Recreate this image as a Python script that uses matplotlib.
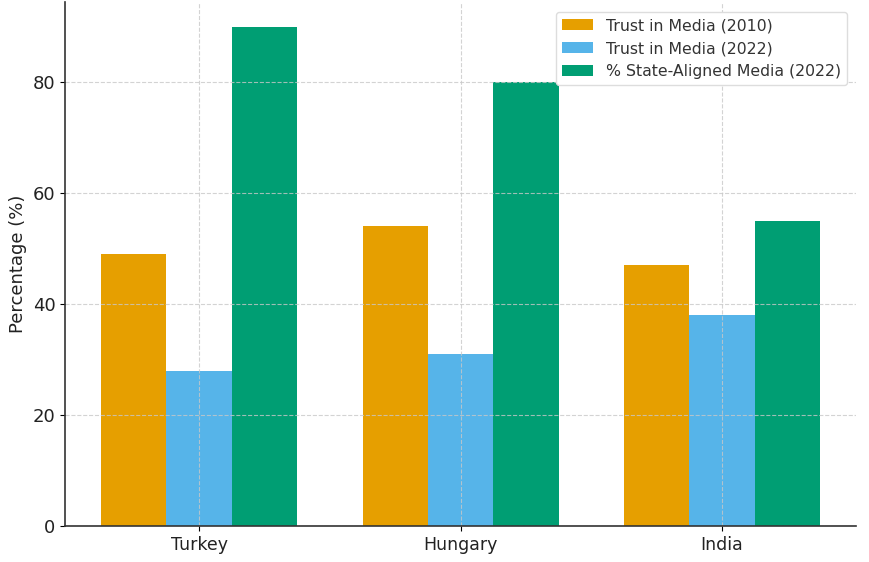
import numpy as np
import matplotlib
matplotlib.use('Agg')
import matplotlib.pyplot as plt

countries = ['Turkey', 'Hungary', 'India']
trust_2010 = [49, 54, 47]
trust_2022 = [28, 31, 38]
state_aligned_2022 = [90, 80, 55]

series = [
    ('Trust in Media (2010)', trust_2010, '#E69F00'),
    ('Trust in Media (2022)', trust_2022, '#56B4E9'),
    ('% State-Aligned Media (2022)', state_aligned_2022, '#009E73'),
]

fig, ax = plt.subplots(figsize=(8.69, 5.62), dpi=100)
fig.subplots_adjust(left=0.075, right=0.985, top=0.997, bottom=0.064)

x = np.arange(len(countries))
width = 0.25
for i, (label, vals, color) in enumerate(series):
    ax.bar(x + (i - 1) * width, vals, width, label=label, color=color)

ax.set_xticks(x)
ax.set_xticklabels(countries, fontsize=12.5, color='#222222')
ax.tick_params(axis='y', labelsize=13, labelcolor='#222222')
ax.set_ylabel('Percentage (%)', fontsize=13, color='#222222')
# grid sits on top of the bars in the reference
ax.grid(True, linestyle='--', color='#c8c8c8', linewidth=0.8, alpha=0.8)
for side in ('top', 'right'):
    ax.spines[side].set_visible(False)
for side in ('left', 'bottom'):
    ax.spines[side].set_color('#333333')
    ax.spines[side].set_linewidth(1.2)

leg = ax.legend(loc='upper right', fontsize=11.3, frameon=True, framealpha=1.0,
                edgecolor='#dddddd', bbox_to_anchor=(0.999, 0.995))
for t in leg.get_texts():
    t.set_color('#333333')

fig.savefig('out.png', dpi=100)
